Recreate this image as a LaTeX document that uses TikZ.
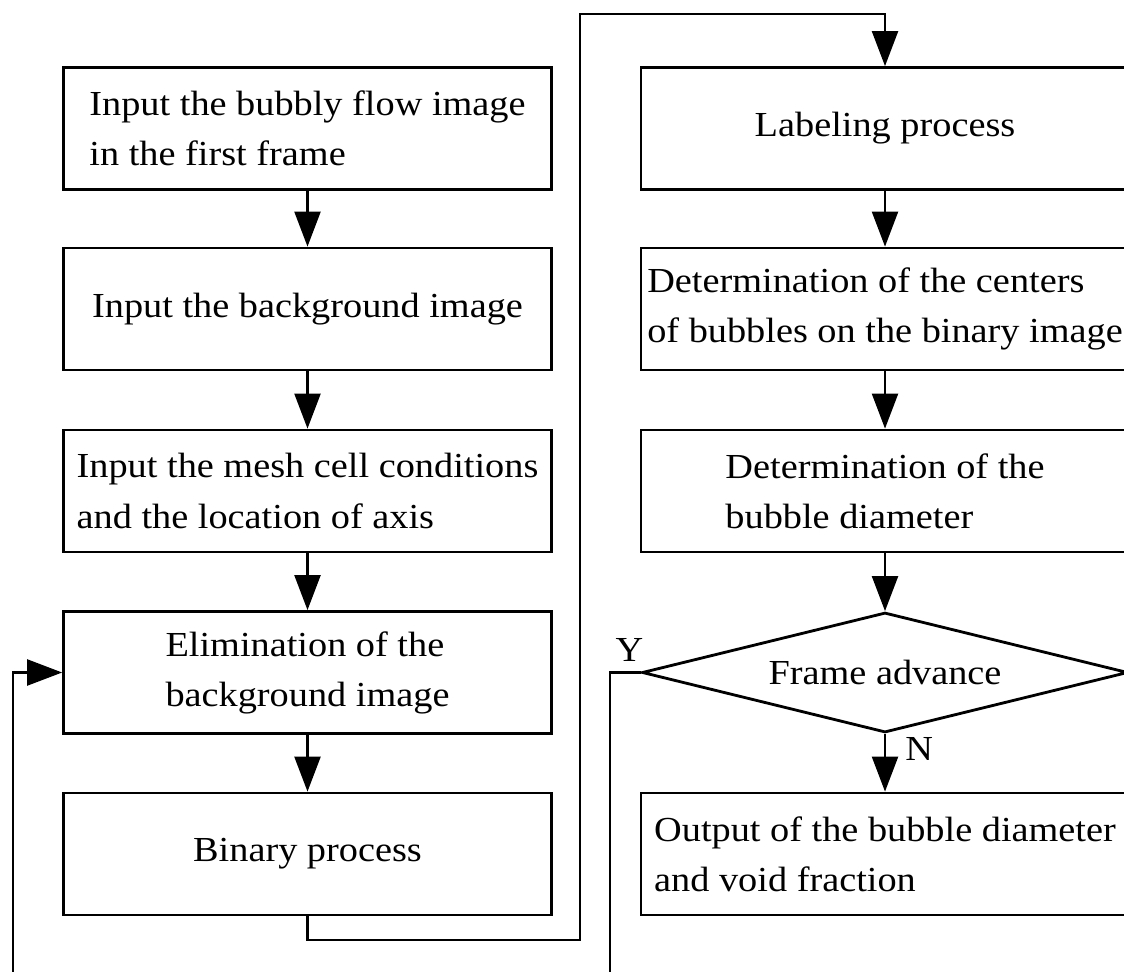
\documentclass[tikz,border=0pt]{standalone}
\usepackage{fontspec}
\setmainfont[FakeStretch=1.09]{Liberation Serif}
\usepackage{tikz}
\usetikzlibrary{arrows.meta, shapes.geometric}

\begin{document}
\begin{tikzpicture}[x=0.02cm, y=-0.02cm,
  every node/.style={font=\fontsize{20}{28.5}\selectfont},
  stepbox/.style={draw, line width=1.6pt, rectangle, align=left,
    minimum width=9.76cm, minimum height=2.44cm, inner sep=0pt},
  decide/.style={draw, line width=1.6pt, diamond, aspect=4, inner sep=0pt,
    minimum width=9.72cm, minimum height=2.4cm},
  line/.style={line width=1.3pt, -{Triangle[length=0.7cm, width=0.52cm]}},
  tag/.style={inner sep=0pt}]
\useasboundingbox (0,0) rectangle (1124,972);

% left column
\node[stepbox] (b1) at (307.5,128.5) {Input the bubbly flow image\\in the first frame};
\node[stepbox] (b2) at (307.5,309) {Input the background image};
\node[stepbox] (b3) at (307.5,491) {Input the mesh cell conditions\\and the location of axis};
\node[stepbox] (b4) at (307.5,672.5) {Elimination of the\\background image};
\node[stepbox] (b5) at (307.5,854) {Binary process};

% right column
\node[stepbox] (r1) at (885,128.5) {Labeling process};
\node[stepbox] (r2) at (885,309) {Determination of the centers\\of bubbles on the binary image};
\node[stepbox] (r3) at (885,491) {Determination of the\\bubble diameter};
\node[decide] (dec) at (885,672.5) {Frame advance};
\node[stepbox] (r4) at (885,854) {Output of the bubble diameter\\and void fraction};

\coordinate (turn1) at (580,940);
\coordinate (turn2) at (580,14);
\coordinate (back1) at (610,995);
\coordinate (back2) at (13,995);

\draw[line] (b1) -- (b2);
\draw[line] (b2) -- (b3);
\draw[line] (b3) -- (b4);
\draw[line] (b4) -- (b5);
\draw[line] (b5.south) |- (turn1) -- (turn2) -| (r1.north);

\draw[line] (r1) -- (r2);
\draw[line] (r2) -- (r3);
\draw[line] (r3) -- (dec.north);
\draw[line] (dec.south) -- (r4);
\draw[line] (dec.west) -| (back1) -- (back2) |- (b4.west);

\node[tag, anchor=south east] (yes) at ([xshift=0.06cm, yshift=0.22cm]dec.west) {Y};
\node[tag, anchor=north west] (no) at ([xshift=0.4cm, yshift=-0.06cm]dec.south) {N};
\end{tikzpicture}
\end{document}
